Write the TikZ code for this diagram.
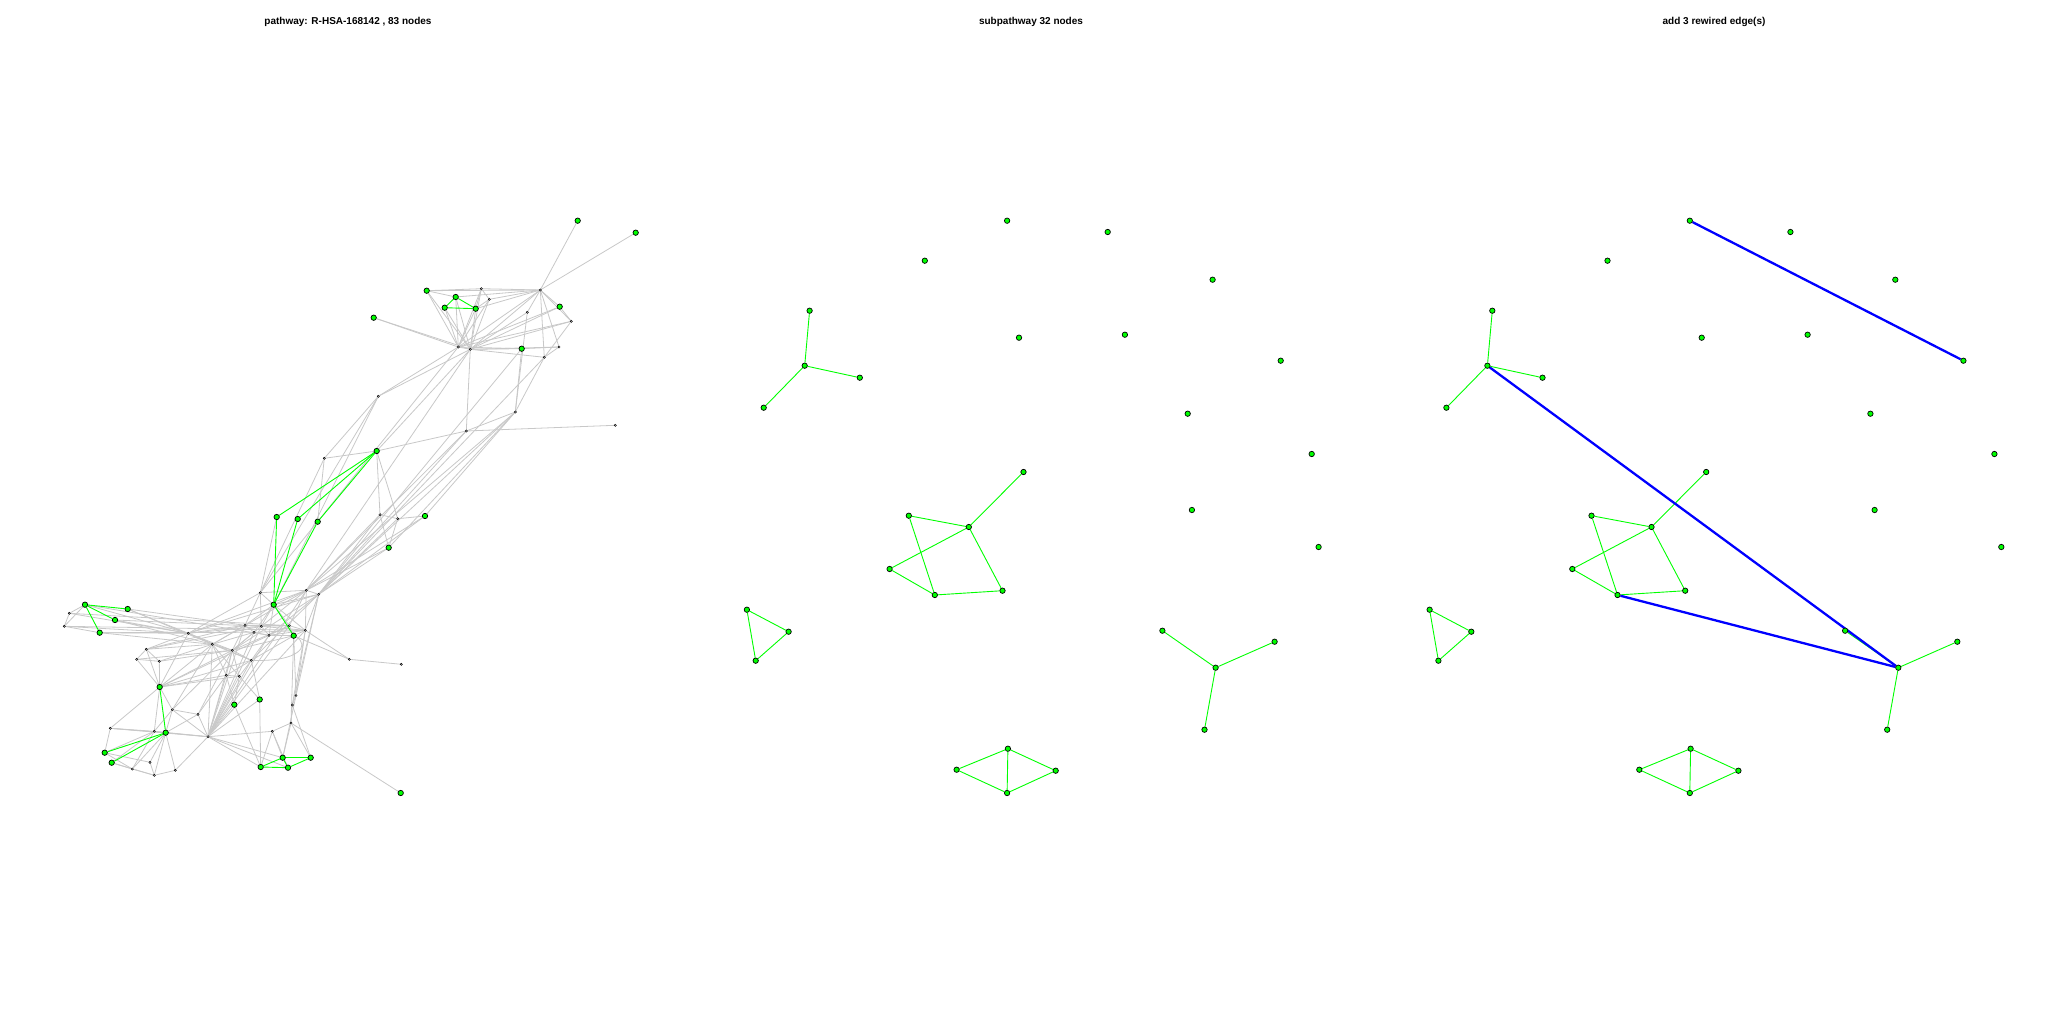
\documentclass[tikz,border=0pt]{standalone}
\usepackage{fontspec}
\setsansfont{Liberation Sans}
\usetikzlibrary{backgrounds}
\definecolor{edgegray}{RGB}{200,200,200}
\definecolor{vgreen}{RGB}{0,255,0}
\definecolor{eblue}{RGB}{0,0,255}
\tikzset{
  gn/.style={circle,draw=black,fill=vgreen,line width=0.7pt,inner sep=0pt,minimum size=5.4pt},
  sn/.style={circle,draw=black,fill=white,line width=0.5pt,inner sep=0pt,minimum size=2.2pt},
  gedge/.style={draw=edgegray,line width=0.8pt},
  grnedge/.style={draw=vgreen,line width=0.9pt},
  bluedge/.style={draw=eblue,line width=2.3pt},
  ttl/.style={font=\sffamily\bfseries\fontsize{10}{12}\selectfont,inner sep=0pt}
}
\begin{document}
\begin{tikzpicture}[x=1pt,y=-1pt]
\useasboundingbox (0,0) rectangle (2048,1024);
% titles
\node[ttl] (t1) at (348,22) {pathway: R-HSA-168142 , 83 nodes};
\node[ttl] (t2) at (1031,22) {subpathway 32 nodes};
\node[ttl] (t3) at (1714,22) {add 3 rewired edge(s)};
% ---------- left panel nodes ----------
\foreach \i/\x/\y in {3/540.3/290, 5/481.3/288.7, 6/489.3/299.3, 12/527.3/312.3, 13/571.3/321.3, 14/458.3/347, 15/470.3/349.3, 17/559/347, 18/544.3/357.3, 19/378.3/396.3, 20/515.3/412, 21/466.3/431, 22/615.3/425.3, 24/324.3/458.3, 28/380/514.7, 29/397.7/518.7, 32/260.3/592.7, 34/306.3/590.3, 35/318.7/594.3, 36/245/625.3, 37/261.3/626.3, 38/254/632.3, 39/269/635.3, 40/289.3/625.7, 41/305.3/630.3, 43/232.3/650.3, 44/212.3/644.3, 45/188.3/633.3, 46/251.3/660.3, 47/349.3/659.3, 48/401.3/664.3, 49/226.3/675.3, 50/239.3/676.3, 55/69.3/613.3, 56/64.3/626.3, 57/146.3/649.3, 58/136.7/659.3, 59/159.3/661.3, 61/296/695.5, 64/292.3/705, 65/172.3/709.7, 66/198/714.3, 67/291/723, 68/110.3/728.3, 69/154.3/731.3, 71/208/736.7, 72/272.3/731.3, 75/150/762.3, 76/132.3/769, 77/154.3/775.3, 78/175.3/770.3}
  \node[sn] (a\i) at (\x,\y) {};
\foreach \i/\x/\y in {1/577.7/220.7, 2/635.7/232.7, 4/426.7/290.7, 7/455.7/297, 8/444.7/307.7, 9/475.7/308.7, 10/373.7/317.7, 11/559.7/306.7, 16/521.7/348.7, 23/376.7/451, 25/276.7/517, 26/297.7/519, 27/317.7/521.7, 30/425/516, 31/388.7/547.7, 33/273.7/604.7, 42/293.7/635.7, 51/85/604.7, 52/127.7/609, 53/115/620, 54/99.7/632.7, 60/159.7/687, 62/259.7/699.5, 63/234.3/704.7, 70/165.7/732.7, 73/104.7/752.7, 74/111.7/762.7, 79/282.7/757.7, 80/310.7/757.7, 81/260.7/767, 82/288/767.7, 83/400.7/793}
  \node[gn] (a\i) at (\x,\y) {};
% ---------- middle and right panel nodes ----------
\foreach \p/\dx in {m/0, r/682.7}{
  \foreach \i/\x/\y in {1/1007.1/220.7, 2/1107.7/232, 3/924.8/260.7, 4/1212.6/279.7, 5/809.6/310.7, 6/804.7/365.7, 7/859.8/377.7, 8/763.7/407.7, 9/1019/337.7, 10/1124.9/334.7, 11/1280.7/360.7, 12/1187.7/413.7, 13/1311.7/454, 14/1023.5/472, 15/908.8/515.7, 16/968.8/527, 17/889.6/569, 18/934.8/595, 19/1002.5/590.7, 20/1191.9/510, 21/1318.6/547, 22/746.9/609.7, 23/788.6/631.7, 24/755.7/660.7, 25/1162.4/630.7, 26/1274.6/641.7, 27/1215.6/667.7, 28/1204.5/729.7, 29/1007.9/748.7, 30/956.6/769.7, 31/1055.7/770.7, 32/1007.1/793}
    \node[gn] (\p\i) at (\x+\dx,\y) {};
}
\begin{pgfonlayer}{background}
% ---------- left panel gray edges ----------
\foreach \a/\b in {1/3, 2/3, 3/4, 3/5, 3/6, 3/7, 3/9, 3/11, 3/12, 3/13, 3/17, 3/18, 3/14, 3/15,
  4/5, 4/14, 4/15, 5/6, 5/14, 5/15, 6/14, 6/15, 7/14, 7/15, 8/14, 8/15, 9/14, 9/15, 5/9, 6/9, 4/7,
  10/14, 10/15, 14/15, 15/11, 15/13, 15/16, 15/17, 15/18, 14/11, 14/16, 14/13, 12/15, 16/17, 11/13, 13/18, 17/18,
  16/20, 18/20, 12/20, 20/21, 21/22, 14/19, 15/19, 15/21,
  19/24, 19/32, 19/33, 14/32, 20/34, 20/35, 18/35, 21/34, 21/35, 16/35, 15/34,
  23/24, 23/28, 23/29, 23/15, 23/21, 24/27, 24/32, 25/32, 28/29, 29/30, 28/31, 29/31, 30/20, 31/20,
  28/34, 28/35, 29/35, 30/35, 31/35, 30/34, 31/34,
  32/33, 32/36, 32/37, 32/45, 32/34, 33/34, 33/36, 33/37, 33/38, 33/39, 33/40, 33/41, 33/35, 34/35, 34/40, 34/41,
  34/37, 34/44, 35/41, 35/43, 35/39, 35/46, 36/37, 36/38, 36/45, 36/44, 36/40, 37/39, 37/40, 37/41, 38/39, 38/44,
  38/43, 38/41, 39/40, 39/41, 39/42, 39/46, 40/41, 40/42, 41/42, 42/47, 47/48, 41/47, 42/46, 42/43, 43/44, 43/45,
  43/46, 43/49, 43/50, 44/45, 44/46, 44/49, 45/46, 46/49, 46/50, 49/50, 37/43, 40/43, 36/43, 34/45, 35/45, 37/45, 44/50,
  51/55, 51/56, 55/56, 54/56, 52/45, 53/45, 54/45, 55/45, 56/45, 51/45, 52/44, 53/44, 54/44, 52/36, 53/37, 54/38,
  51/39, 55/40, 56/41,
  57/45, 57/58, 57/59, 58/59, 58/60, 57/60, 59/60, 57/44, 59/43, 58/43, 57/36, 59/44, 57/37,
  60/45, 60/44, 60/43, 60/46, 60/49, 60/50, 60/65, 60/68, 60/69, 60/39,
  61/64, 64/67, 67/72, 61/42, 64/41, 61/41, 62/46, 62/50, 63/49, 63/50, 62/71, 63/71, 71/72, 71/79, 71/81, 71/82,
  72/79, 72/81, 67/80, 67/79, 64/80, 67/83, 62/81, 63/81, 61/79, 61/35, 64/35, 67/42, 72/82,
  71/65, 71/66, 71/69, 71/70, 71/68, 71/43, 71/44, 71/46, 71/49, 71/50, 71/37, 71/39, 71/40, 71/41, 71/38, 71/36, 71/34,
  65/44, 65/43, 65/70, 65/69, 65/66, 66/43, 66/49, 66/70,
  68/70, 68/69, 68/73, 69/70, 69/73, 69/74, 69/76, 73/75, 74/76, 75/70, 76/77, 77/78, 78/70, 75/77, 78/71, 76/70,
  77/70, 74/77, 73/76}
  \draw[gedge] (a\a) -- (a\b);
\draw[gedge] (a42) .. controls (310,645) and (300,662) .. (a46);
% ---------- left panel green edges ----------
\foreach \a/\b in {7/8, 7/9, 8/9, 23/25, 23/26, 23/27, 25/33, 26/33, 27/33, 33/42,
  51/52, 51/53, 51/54, 60/70, 70/73, 70/74, 79/81, 79/80, 81/82, 80/82, 79/82}
  \draw[grnedge] (a\a) -- (a\b);
% ---------- middle and right panel green edges ----------
\foreach \p in {m, r}{
  \foreach \a/\b in {5/6, 6/7, 6/8, 14/16, 15/16, 16/17, 15/18, 17/18, 18/19, 16/19, 22/23, 23/24, 22/24,
    25/27, 26/27, 27/28, 29/30, 29/31, 30/32, 31/32, 29/32}
    \draw[grnedge] (\p\a) -- (\p\b);
}
% ---------- rewired edges ----------
\draw[bluedge] (r1) -- (r11);
\draw[bluedge] (r6) -- (r27);
\draw[bluedge] (r18) -- (r27);
\end{pgfonlayer}
\end{tikzpicture}
\end{document}
